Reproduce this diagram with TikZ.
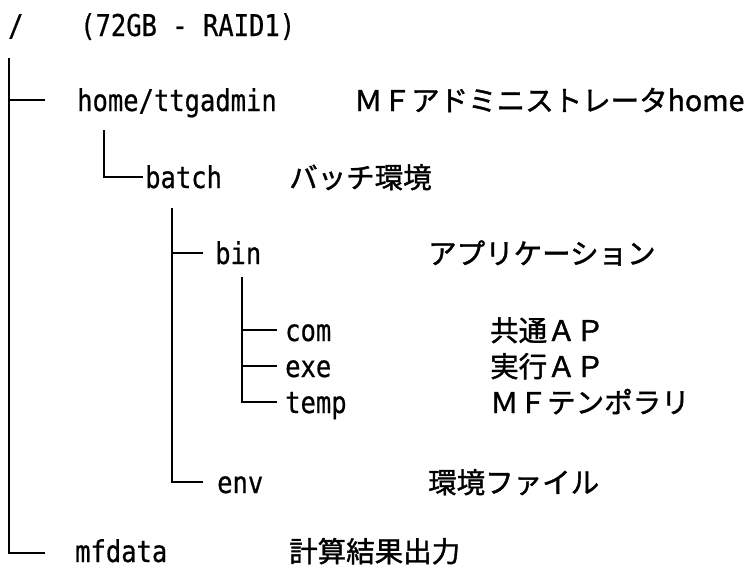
\documentclass[tikz,border=0pt]{standalone}
\usepackage{fontspec}
\newfontfamily\lat[FakeStretch=0.85,FakeBold=0.6]{DejaVu Sans Mono}
\newfontfamily\jp[FakeBold=1.3]{Noto Sans CJK JP}
\begin{document}
\begin{tikzpicture}[x=1pt,y=-1pt,
  lt/.style={anchor=base west, inner sep=0pt, font=\lat\fontsize{30}{30}\selectfont},
  jt/.style={anchor=base west, inner sep=0pt, font=\jp\fontsize{28.5}{28.5}\selectfont},
  tree/.style={line width=2.8pt, line cap=butt, line join=miter}]
\useasboundingbox (0,0) rectangle (748,568);
% texts
\node[lt] (root) at (8,36) {/};
\node[lt] (raid) at (80,36) {(72GB - RAID1)};
\node[lt] (home) at (77,111) {home/ttgadmin};
\node[jt] (homeL) at (354,111) {ＭＦアドミニストレータhome};
\node[lt] (batch) at (145,188) {batch};
\node[jt] (batchL) at (289,188) {バッチ環境};
\node[lt] (bin) at (215,264) {bin};
\node[jt] (binL) at (428,264) {アプリケーション};
\node[lt] (com) at (285,341) {com};
\node[jt] (comL) at (490,341) {共通ＡＰ};
\node[lt] (exe) at (285,377) {exe};
\node[jt] (exeL) at (490,377) {実行ＡＰ};
\node[lt] (temp) at (285,413) {temp};
\node[jt] (tempL) at (490,413) {ＭＦテンポラリ};
\node[lt] (env) at (217,493) {env};
\node[jt] (envL) at (428,493) {環境ファイル};
\node[lt] (mfdata) at (75,562) {mfdata};
\node[jt] (mfdataL) at (289,562) {計算結果出力};
% line end points
\coordinate (rootT) at (9,58);
\coordinate (homeE) at (45,100);
\coordinate (mfE) at (45,553);
\coordinate (homeT) at (104,130);
\coordinate (batchE) at (143,177);
\coordinate (batchT) at (172,208);
\coordinate (binE) at (203,253);
\coordinate (envE) at (203,482);
\coordinate (binT) at (242,277);
\coordinate (comE) at (277,330);
\coordinate (exeE) at (277,366);
\coordinate (tempE) at (277,402);
% connectors
\draw[tree] (rootT) |- (homeE);
\draw[tree] (rootT) |- (mfE);
\draw[tree] (homeT) |- (batchE);
\draw[tree] (batchT) |- (binE);
\draw[tree] (batchT) |- (envE);
\draw[tree] (binT) |- (comE);
\draw[tree] (binT) |- (exeE);
\draw[tree] (binT) |- (tempE);
\end{tikzpicture}
\end{document}
